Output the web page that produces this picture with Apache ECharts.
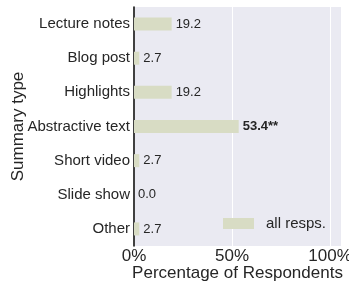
<!DOCTYPE html>
<html>
<head>
<meta charset="utf-8">
<script src="https://cdn.jsdelivr.net/npm/echarts@6/dist/echarts.min.js"></script>
<style>
  html, body { margin: 0; padding: 0; background: #fff; }
  #main { width: 349px; height: 282px; }
</style>
</head>
<body>
<div id="main"></div>
<script type="text/javascript">
// categories, top to bottom
var categories = ['Lecture notes', 'Blog post', 'Highlights', 'Abstractive text', 'Short video', 'Slide show', 'Other'];
// percentage of respondents
var values = [19.2, 2.7, 19.2, 53.4, 2.7, 0.0, 2.7];
// significance markers
var marks = ['', '', '', '**', '', '', ''];
var xTicks = [0, 50, 100];

var chart = echarts.init(document.getElementById('main'));
var font = 'Liberation Sans, Arial, sans-serif';

chart.setOption({
  animation: false,
  textStyle: { fontFamily: font },
  legend: {
    data: ['all resps.'],
    left: 218,
    top: 211,
    itemWidth: 31,
    itemHeight: 11,
    itemGap: 10,
    icon: 'rect',
    textStyle: { fontSize: 15, color: '#262626', fontFamily: font, padding: [0, 0, 0, 7] }
  },
  grid: {
    left: 134, right: 8, top: 7, bottom: 36,
    outerBoundsMode: 'none',
    containLabel: false,
    backgroundColor: '#eaeaf2', show: true, borderWidth: 0
  },
  xAxis: {
    type: 'value',
    min: 0,
    max: 105.6,
    interval: 50,
    name: 'Percentage of Respondents',
    nameLocation: 'middle',
    nameGap: 19,
    nameMoveOverlap: false,
    nameTextStyle: { fontSize: 17, color: '#262626', fontFamily: font },
    axisLine: { show: false },
    axisTick: { show: false },
    axisLabel: {
      fontSize: 17, color: '#262626', margin: 2, fontFamily: font,
      showMaxLabel: false,
      formatter: function (v) { return xTicks.indexOf(v) >= 0 ? v + '%' : ''; }
    },
    splitLine: { lineStyle: { color: '#ffffff', width: 1 } }
  },
  yAxis: {
    type: 'category',
    data: categories,
    inverse: true,
    name: 'Summary type',
    nameLocation: 'middle',
    nameGap: 107,
    nameMoveOverlap: false,
    nameTextStyle: { fontSize: 17, color: '#262626', fontFamily: font },
    axisLine: { show: true, lineStyle: { color: '#000000', width: 1.5 } },
    axisTick: { show: false },
    axisLabel: { fontSize: 15, color: '#262626', margin: 4, fontFamily: font },
    splitLine: { show: false }
  },
  series: [{
    name: 'all resps.',
    type: 'bar',
    data: values,
    barWidth: 13,
    itemStyle: { color: '#d8dcc4' },
    label: {
      show: true,
      position: 'right',
      distance: 4,
      fontSize: 13,
      color: '#262626',
      fontFamily: font,
      formatter: function (p) {
        var m = marks[p.dataIndex];
        var t = p.value.toFixed(1) + m;
        return m ? '{b|' + t + '}' : t;
      },
      rich: { b: { fontWeight: 'bold', fontSize: 13, color: '#262626', fontFamily: font } }
    }
  }]
});
</script>
</body>
</html>
